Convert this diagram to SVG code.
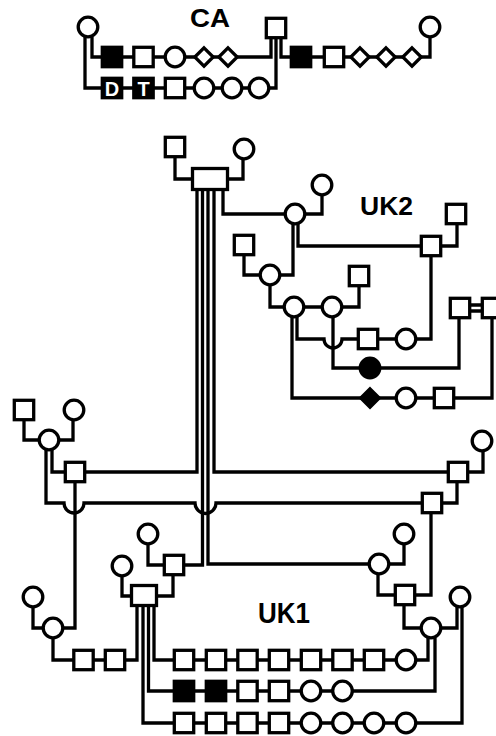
<svg xmlns="http://www.w3.org/2000/svg" width="496" height="736" viewBox="0 0 496 736">
<defs>
<style>
.ln{fill:none;stroke:#000;stroke-width:3.3}
.s{fill:#fff;stroke:#000;stroke-width:3.3}
.a{fill:#000;stroke:#000;stroke-width:3.3}
.lab{font-family:"Liberation Sans",Arial,sans-serif;font-weight:bold;fill:#000;text-anchor:middle}
.in{font-family:"Liberation Sans",Arial,sans-serif;font-weight:bold;fill:#fff;text-anchor:middle;font-size:20px}
</style>
<rect id="sq" x="-9.7" y="-9.7" width="19.4" height="19.4"/>
<circle id="ci" r="9.8"/>
<path id="di" d="M0 -9.2 L9.2 0 L0 9.2 L-9.2 0 Z"/>
</defs>
<rect width="496" height="736" fill="#fff"/>
<g id="connectors" class="ln">
<path d="M92 37 V57 H271 V38"/>
<path d="M85 37 V88 H276 V38"/>
<path d="M281 38 V57 H430 V37"/>
<path d="M175 157 V179 H193"/>
<path d="M243 159 V179 H227"/>
<path d="M223 189 V214 H295"/>
<path d="M322 195 V214 H300"/>
<path d="M298 224 V246 H431"/>
<path d="M457 224 V246 H440"/>
<path d="M293 224 V275 H270"/>
<path d="M244 255 V275 H260"/>
<path d="M270 285 V307 H359 V286"/>
<path d="M297 317 V339 H324 A9 9 0 0 0 342 339 H431 V256"/>
<path d="M292 317 V398 H492 V318"/>
<path d="M333 317 V368 H459 V318"/>
<path d="M469 305 H483 M469 311 H483"/>
<path d="M197 189 V472 H85"/>
<path d="M214 189 V472 H448"/>
<path d="M202.5 189 V565 H184"/>
<path d="M208 189 V564 H370"/>
<path d="M24 420 V440 H40"/>
<path d="M73 420 V440 H58"/>
<path d="M52 450 V472 H66"/>
<path d="M46 450 V503 H64 A10 10 0 0 0 84 503 H195 A10.5 10.5 0 0 0 216 503 H422"/>
<path d="M75 482 V628 H62"/>
<path d="M483 451 V472 H468"/>
<path d="M457 482 V503 H442"/>
<path d="M431 513 V595 H414"/>
<path d="M404 544 V564 H388"/>
<path d="M378 574 V595 H396"/>
<path d="M404 605 V628 H422"/>
<path d="M457 607 V628 H440"/>
<path d="M462 607 V723 H406"/>
<path d="M428 638 V660 H406"/>
<path d="M435 638 V691 H342"/>
<path d="M148 544 V565 H165"/>
<path d="M173 575 V596 H157"/>
<path d="M122 576 V596 H132"/>
<path d="M33 607 V628 H44"/>
<path d="M53 638 V660 H84"/>
<path d="M137 606 V660 H84"/>
<path d="M154 606 V660 H406"/>
<path d="M148.5 606 V691 H342"/>
<path d="M143 606 V723 H406"/>
</g>
<g id="labels">
<text class="lab" x="210" y="26.5" font-size="26" textLength="40" lengthAdjust="spacingAndGlyphs">CA</text>
<text class="lab" x="386.5" y="215" font-size="25" textLength="53" lengthAdjust="spacingAndGlyphs">UK2</text>
<text class="lab" x="284" y="623" font-size="29" textLength="52" lengthAdjust="spacingAndGlyphs">UK1</text>
</g>
<g id="ca-c1"><use href="#ci" class="s" x="88" y="27"/></g>
<g id="ca-s0"><use href="#sq" class="s" x="276" y="28"/></g>
<g id="ca-c2"><use href="#ci" class="s" x="430" y="27"/></g>
<g id="ca-r1a"><use href="#sq" class="a" x="112" y="57"/></g>
<g id="ca-r1b"><use href="#sq" class="s" x="143.5" y="57"/></g>
<g id="ca-r1c"><use href="#ci" class="s" x="175" y="57"/></g>
<g id="ca-r1d"><use href="#di" class="s" x="204" y="57"/></g>
<g id="ca-r1e"><use href="#di" class="s" x="228" y="57"/></g>
<g id="ca-r1f"><use href="#sq" class="a" x="301" y="57"/></g>
<g id="ca-r1g"><use href="#sq" class="s" x="334" y="57"/></g>
<g id="ca-r1h"><use href="#di" class="s" x="360" y="57"/></g>
<g id="ca-r1i"><use href="#di" class="s" x="386" y="57"/></g>
<g id="ca-r1j"><use href="#di" class="s" x="412" y="57"/></g>
<g id="ca-r2a"><use href="#sq" class="a" x="112" y="88"/><text class="in" x="112" y="95.5">D</text></g>
<g id="ca-r2b"><use href="#sq" class="a" x="143.5" y="88"/><text class="in" x="143.5" y="95.5">T</text></g>
<g id="ca-r2c"><use href="#sq" class="s" x="175" y="88"/></g>
<g id="ca-r2d"><use href="#ci" class="s" x="204" y="88"/></g>
<g id="ca-r2e"><use href="#ci" class="s" x="232" y="88"/></g>
<g id="ca-r2f"><use href="#ci" class="s" x="259" y="88"/></g>
<g id="top-s"><use href="#sq" class="s" x="175" y="147"/></g>
<g id="top-c"><use href="#ci" class="s" x="244" y="149"/></g>
<g id="top-m"><rect class="s" x="192.5" y="168.5" width="35" height="21"/></g>
<g id="uk2-c1"><use href="#ci" class="s" x="322" y="185"/></g>
<g id="uk2-c2"><use href="#ci" class="s" x="295" y="214"/></g>
<g id="uk2-s1"><use href="#sq" class="s" x="456" y="214"/></g>
<g id="uk2-s2"><use href="#sq" class="s" x="431" y="246"/></g>
<g id="uk2-s3"><use href="#sq" class="s" x="244" y="245"/></g>
<g id="uk2-c3"><use href="#ci" class="s" x="270" y="275"/></g>
<g id="uk2-s4"><use href="#sq" class="s" x="359" y="276"/></g>
<g id="uk2-c4"><use href="#ci" class="s" x="294" y="307"/></g>
<g id="uk2-c5"><use href="#ci" class="s" x="332" y="307"/></g>
<g id="uk2-s5"><use href="#sq" class="s" x="460" y="308"/></g>
<g id="uk2-s6"><use href="#sq" class="s" x="492" y="308"/></g>
<g id="uk2-s7"><use href="#sq" class="s" x="368" y="339"/></g>
<g id="uk2-c6"><use href="#ci" class="s" x="406" y="339"/></g>
<g id="uk2-c7"><use href="#ci" class="a" x="370" y="368"/></g>
<g id="uk2-d1"><use href="#di" class="a" x="370" y="398"/></g>
<g id="uk2-c8"><use href="#ci" class="s" x="406" y="398"/></g>
<g id="uk2-s8"><use href="#sq" class="s" x="444" y="398"/></g>
<g id="uk1-s1"><use href="#sq" class="s" x="24" y="410"/></g>
<g id="uk1-c1"><use href="#ci" class="s" x="74" y="410"/></g>
<g id="uk1-c2"><use href="#ci" class="s" x="49" y="440"/></g>
<g id="uk1-s2"><use href="#sq" class="s" x="75" y="472"/></g>
<g id="uk1-c3"><use href="#ci" class="s" x="482" y="441"/></g>
<g id="uk1-s3"><use href="#sq" class="s" x="458" y="472"/></g>
<g id="uk1-s4"><use href="#sq" class="s" x="432" y="503"/></g>
<g id="uk1-c4"><use href="#ci" class="s" x="404" y="534"/></g>
<g id="uk1-c5"><use href="#ci" class="s" x="379" y="564"/></g>
<g id="uk1-s5"><use href="#sq" class="s" x="405" y="595"/></g>
<g id="uk1-c6"><use href="#ci" class="s" x="460" y="597"/></g>
<g id="uk1-c7"><use href="#ci" class="s" x="431" y="628"/></g>
<g id="uk1-c8"><use href="#ci" class="s" x="148" y="534"/></g>
<g id="uk1-s6"><use href="#sq" class="s" x="174" y="565"/></g>
<g id="uk1-c9"><use href="#ci" class="s" x="122" y="566"/></g>
<g id="uk1-m"><rect class="s" x="131.5" y="585.5" width="25" height="20"/></g>
<g id="uk1-c10"><use href="#ci" class="s" x="33" y="597"/></g>
<g id="uk1-c11"><use href="#ci" class="s" x="53" y="628"/></g>
<g id="uk1-s7"><use href="#sq" class="s" x="83.5" y="660"/></g>
<g id="uk1-s8"><use href="#sq" class="s" x="115" y="660"/></g>
<g id="r1-1"><use href="#sq" class="s" x="184" y="660"/></g>
<g id="r1-2"><use href="#sq" class="s" x="216" y="660"/></g>
<g id="r1-3"><use href="#sq" class="s" x="247.5" y="660"/></g>
<g id="r1-4"><use href="#sq" class="s" x="279" y="660"/></g>
<g id="r1-5"><use href="#sq" class="s" x="311" y="660"/></g>
<g id="r1-6"><use href="#sq" class="s" x="342.5" y="660"/></g>
<g id="r1-7"><use href="#sq" class="s" x="374" y="660"/></g>
<g id="r1-8"><use href="#ci" class="s" x="406" y="660"/></g>
<g id="r2-1"><use href="#sq" class="a" x="184" y="691"/></g>
<g id="r2-2"><use href="#sq" class="a" x="216" y="691"/></g>
<g id="r2-3"><use href="#sq" class="s" x="247.5" y="691"/></g>
<g id="r2-4"><use href="#sq" class="s" x="279" y="691"/></g>
<g id="r2-5"><use href="#ci" class="s" x="311" y="691"/></g>
<g id="r2-6"><use href="#ci" class="s" x="342.5" y="691"/></g>
<g id="r3-1"><use href="#sq" class="s" x="184" y="723"/></g>
<g id="r3-2"><use href="#sq" class="s" x="216" y="723"/></g>
<g id="r3-3"><use href="#sq" class="s" x="247.5" y="723"/></g>
<g id="r3-4"><use href="#sq" class="s" x="279" y="723"/></g>
<g id="r3-5"><use href="#ci" class="s" x="311" y="723"/></g>
<g id="r3-6"><use href="#ci" class="s" x="342.5" y="723"/></g>
<g id="r3-7"><use href="#ci" class="s" x="374" y="723"/></g>
<g id="r3-8"><use href="#ci" class="s" x="406" y="723"/></g>
</svg>
